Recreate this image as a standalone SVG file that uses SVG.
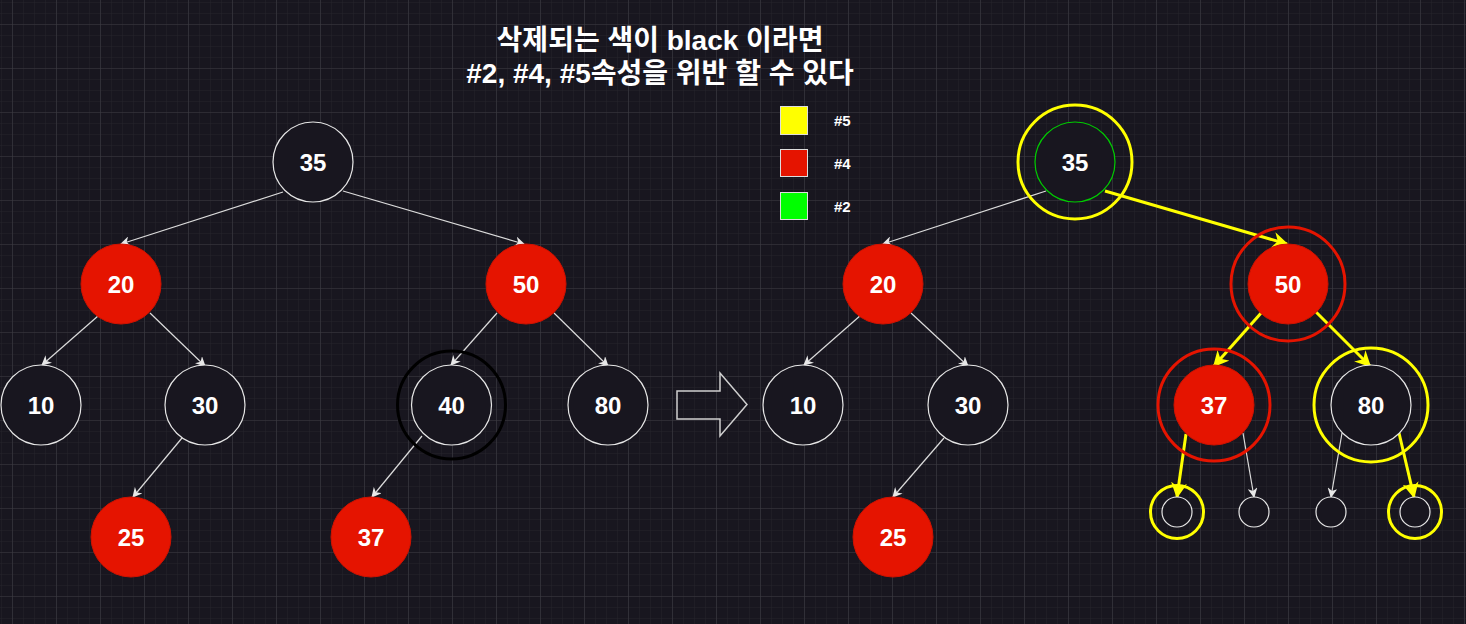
<svg xmlns="http://www.w3.org/2000/svg" width="1466" height="624" viewBox="0 0 1466 624">
<defs>
<pattern id="minor" x="12" y="24" width="11" height="11" patternUnits="userSpaceOnUse">
<path d="M0 0H11M0 0V11" stroke="#25232c" stroke-width="1" fill="none"/>
</pattern>
<pattern id="major" x="12" y="24" width="44" height="44" patternUnits="userSpaceOnUse">
<path d="M0 0H44M0 0V44" stroke="#3b3a42" stroke-width="1.2" fill="none"/>
</pattern>
<marker id="aw" viewBox="0 0 10 10" refX="9" refY="5" markerWidth="10" markerHeight="10" markerUnits="userSpaceOnUse" orient="auto">
<path d="M0 0L10 5L0 10L3 5Z" fill="#e8e8e8"/>
</marker>
<marker id="ay" viewBox="0 0 10 10" refX="9" refY="5" markerWidth="16" markerHeight="16" markerUnits="userSpaceOnUse" orient="auto">
<path d="M0 0L10 5L0 10L3 5Z" fill="#ffff00"/>
</marker>
</defs>
<style>
.bk{fill:#18161f;stroke:#e6e6e6;stroke-width:1.2}
.rd{fill:#e51400;stroke:#d01200;stroke-width:1}
.t{font-family:"Liberation Sans","Noto Sans CJK KR",sans-serif;font-weight:bold;font-size:24px;fill:#ffffff;text-anchor:middle;dominant-baseline:central}
.e{stroke:#dcdcdc;stroke-width:1.2;fill:none;marker-end:url(#aw)}
.ey{stroke:#ffff00;stroke-width:3;fill:none;marker-end:url(#ay)}
.ry{fill:none;stroke:#ffff00;stroke-width:3}
.rr{fill:none;stroke:#e51400;stroke-width:3}
.lg{font-family:"Liberation Sans",sans-serif;font-weight:bold;font-size:15px;fill:#ffffff;dominant-baseline:central}
.ttl{font-family:"Liberation Sans","Noto Sans CJK KR",sans-serif;font-weight:bold;font-size:28px;fill:#ffffff;text-anchor:middle}
</style>
<rect width="1466" height="624" fill="#18161f"/>
<rect width="1466" height="624" fill="url(#minor)"/>
<rect width="1466" height="624" fill="url(#major)"/>

<g id="title">
<text class="ttl" x="660" y="50">삭제되는 색이 black 이라면</text>
<text class="ttl" x="660" y="83">#2, #4, #5속성을 위반 할 수 있다</text>
</g>

<g id="legend">
<rect x="780.5" y="106.5" width="27" height="28" fill="#ffff00" stroke="#dddddd"/>
<text class="lg" x="834" y="120">#5</text>
<rect x="780.5" y="149.5" width="27" height="27" fill="#e51400" stroke="#dddddd"/>
<text class="lg" x="834" y="163">#4</text>
<rect x="780.5" y="192.5" width="27" height="27" fill="#00ff00" stroke="#dddddd"/>
<text class="lg" x="834" y="206">#2</text>
</g>

<g id="connectors">
<line class="e" x1="283" y1="192" x2="121" y2="244"/>
<line class="e" x1="343" y1="191" x2="524" y2="244"/>
<line class="e" x1="98" y1="316" x2="42" y2="365"/>
<line class="e" x1="150" y1="313" x2="205" y2="366"/>
<line class="e" x1="497" y1="313" x2="451" y2="365"/>
<line class="e" x1="554" y1="313" x2="608" y2="366"/>
<line class="e" x1="182" y1="438" x2="133" y2="497"/>
<line class="e" x1="422" y1="436" x2="372" y2="497"/>

<line class="e" x1="1046" y1="191" x2="883" y2="244"/>
<line class="ey" x1="1105" y1="191" x2="1287" y2="244"/>
<line class="e" x1="861" y1="315" x2="804" y2="365"/>
<line class="e" x1="911" y1="313" x2="968" y2="366"/>
<line class="e" x1="944" y1="438" x2="893" y2="497"/>
<line class="ey" x1="1262" y1="312" x2="1214" y2="366"/>
<line class="ey" x1="1316" y1="312" x2="1370" y2="366"/>
<line class="ey" x1="1186" y1="434" x2="1177" y2="497"/>
<line class="e" x1="1243" y1="433" x2="1254" y2="497"/>
<line class="e" x1="1342" y1="433" x2="1331" y2="497"/>
<line class="ey" x1="1399" y1="433" x2="1414" y2="497"/>
</g>

<g id="L35"><circle class="bk" cx="313" cy="162" r="40"/><text class="t" x="313" y="162">35</text></g>
<g id="L20"><circle class="rd" cx="121" cy="284" r="40"/><text class="t" x="121" y="284">20</text></g>
<g id="L50"><circle class="rd" cx="526" cy="284" r="40"/><text class="t" x="526" y="284">50</text></g>
<g id="L10"><circle class="bk" cx="41" cy="405" r="40"/><text class="t" x="41" y="405">10</text></g>
<g id="L30"><circle class="bk" cx="205" cy="405" r="40"/><text class="t" x="205" y="405">30</text></g>
<g id="L40"><circle fill="none" stroke="#000000" stroke-width="3" cx="451.5" cy="405" r="54"/><circle class="bk" cx="451.5" cy="405" r="40"/><text class="t" x="451.5" y="405">40</text></g>
<g id="L80"><circle class="bk" cx="608" cy="405" r="40"/><text class="t" x="608" y="405">80</text></g>
<g id="L25"><circle class="rd" cx="131" cy="537" r="40"/><text class="t" x="131" y="537">25</text></g>
<g id="L37"><circle class="rd" cx="371" cy="537" r="40"/><text class="t" x="371" y="537">37</text></g>

<g id="bigarrow"><path d="M677 391H720V373L747 404.5L720 436V419H677Z" fill="none" stroke="#cfcfcf" stroke-width="1.5"/></g>

<g id="R35"><circle class="bk" cx="1075" cy="162" r="40" style="stroke:#00cc00"/><circle class="ry" cx="1075" cy="162" r="57"/><text class="t" x="1075" y="162">35</text></g>
<g id="R20"><circle class="rd" cx="883" cy="284" r="40"/><text class="t" x="883" y="284">20</text></g>
<g id="R50"><circle class="rd" cx="1288" cy="284" r="40"/><circle class="rr" cx="1288" cy="284" r="57"/><text class="t" x="1288" y="284">50</text></g>
<g id="R10"><circle class="bk" cx="803" cy="405" r="40"/><text class="t" x="803" y="405">10</text></g>
<g id="R30"><circle class="bk" cx="968" cy="405" r="40"/><text class="t" x="968" y="405">30</text></g>
<g id="R37"><circle class="rd" cx="1214" cy="405" r="40"/><circle class="rr" cx="1214" cy="405" r="56"/><text class="t" x="1214" y="405">37</text></g>
<g id="R80"><circle class="bk" cx="1371" cy="405" r="40"/><circle class="ry" cx="1371" cy="405" r="57"/><text class="t" x="1371" y="405">80</text></g>
<g id="R25"><circle class="rd" cx="893" cy="537" r="40"/><text class="t" x="893" y="537">25</text></g>
<g id="N1"><circle class="bk" cx="1177" cy="512" r="15"/><circle class="ry" cx="1177" cy="512" r="26.5"/></g>
<g id="N2"><circle class="bk" cx="1254" cy="512" r="15"/></g>
<g id="N3"><circle class="bk" cx="1331" cy="512" r="15"/></g>
<g id="N4"><circle class="bk" cx="1415" cy="512" r="15"/><circle class="ry" cx="1415" cy="512" r="26.5"/></g>
</svg>
